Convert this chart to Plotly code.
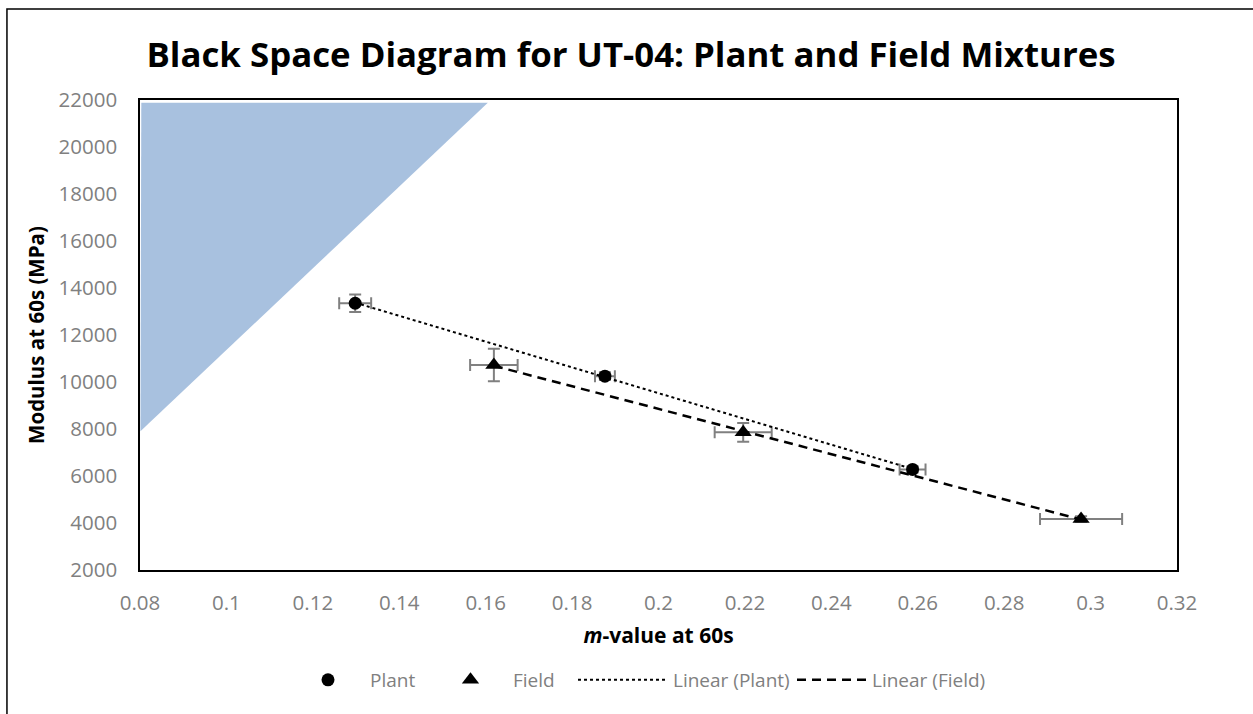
import numpy as np
import plotly.graph_objects as go

# ---- data ----
plant_m = [0.1298, 0.1876, 0.2588]
plant_s = [13350, 10250, 6280]
plant_m_err = [0.0037, 0.0023, 0.0030]
plant_s_err = [370, 170, 130]

field_m = [0.1619, 0.2196, 0.2978]
field_s = [10720, 7860, 4170]
field_m_err = [0.0055, 0.0066, 0.0095]
field_s_err = [690, 400, 120]

# shaded "black space" region
region_m = [0.0803, 0.1605, 0.0801, 0.0803]
region_s = [21880, 21880, 7900, 21880]

x_ticks = [0.08, 0.10, 0.12, 0.14, 0.16, 0.18, 0.20, 0.22, 0.24, 0.26, 0.28, 0.30, 0.32]
x_tick_text = ["0.08", "0.1", "0.12", "0.14", "0.16", "0.18", "0.2", "0.22", "0.24", "0.26", "0.28", "0.3", "0.32"]
y_ticks = [2000, 4000, 6000, 8000, 10000, 12000, 14000, 16000, 18000, 20000, 22000]
y_tick_text = [str(v) for v in y_ticks]

FONT = "Open Sans"
GRAY = "#808080"

# plot-area geometry (pixels) used to place legends
L, R = 140, 1177


def pxx(p):
    return (p - L) / (R - L)


def linear_fit(xs, ys):
    a, b = np.polyfit(xs, ys, 1)
    xx = np.array([min(xs), max(xs)])
    return xx, a * xx + b


fig = go.Figure()

fig.add_trace(go.Scatter(
    x=region_m, y=region_s, mode="lines", fill="toself",
    fillcolor="#A8C1DF", line=dict(width=0, color="#A8C1DF"),
    showlegend=False, hoverinfo="skip"))

px, py = linear_fit(plant_m, plant_s)
fx, fy = linear_fit(field_m, field_s)

fig.add_trace(go.Scatter(
    x=plant_m, y=plant_s, mode="markers", name="Plant", legend="legend",
    marker=dict(symbol="circle", size=13, color="black"),
    error_x=dict(type="data", array=plant_m_err, color=GRAY, thickness=2, width=6),
    error_y=dict(type="data", array=plant_s_err, color=GRAY, thickness=2, width=6)))

fig.add_trace(go.Scatter(
    x=field_m, y=field_s, mode="markers", name="Field", legend="legend2",
    marker=dict(symbol="triangle-up", size=15, color="black"),
    error_x=dict(type="data", array=field_m_err, color=GRAY, thickness=2, width=6),
    error_y=dict(type="data", array=field_s_err, color=GRAY, thickness=2, width=6)))

fig.add_trace(go.Scatter(
    x=px, y=py, mode="lines", name="Linear (Plant)", legend="legend3",
    line=dict(color="black", width=2, dash="dot")))

fig.add_trace(go.Scatter(
    x=fx, y=fy, mode="lines", name="Linear (Field)", legend="legend4",
    line=dict(color="black", width=2.5, dash="9px,6px")))

# outer chart border
fig.add_shape(type="rect", xref="paper", yref="paper",
              x0=-0.1283, x1=1.5, y0=-1.0, y1=1.1936,
              line=dict(color="black", width=1.5), fillcolor="rgba(0,0,0,0)",
              layer="below")


def leg(x_px, iw):
    return dict(orientation="h", x=pxx(x_px), xanchor="left", y=-0.234, yanchor="middle",
                font=dict(family=FONT, size=19, color=GRAY), itemwidth=iw,
                bgcolor="rgba(0,0,0,0)", borderwidth=0)


fig.update_layout(
    width=1253, height=714,
    margin=dict(l=140, r=76, t=100, b=144),
    paper_bgcolor="white", plot_bgcolor="white",
    font=dict(family=FONT, color=GRAY),
    title=dict(text="<b>Black Space Diagram for UT-04: Plant and Field Mixtures</b>",
               x=0.5036, xref="container", xanchor="center",
               y=0.923, yref="container", yanchor="middle",
               font=dict(family=FONT, size=34.8, color="black")),
    xaxis=dict(range=[0.08, 0.32], tickvals=x_ticks, ticktext=x_tick_text,
               showgrid=False, zeroline=False, showline=True, mirror=True,
               linecolor="black", linewidth=1.5, ticks="", ticklabelstandoff=14,
               tickfont=dict(family=FONT, size=20.5, color=GRAY),
               title=dict(text="<b><i>m</i>-value at 60s</b>",
                          font=dict(family=FONT, size=21, color="black"), standoff=13)),
    yaxis=dict(range=[2000, 22000], tickvals=y_ticks, ticktext=y_tick_text,
               showgrid=False, zeroline=False, showline=True, mirror=True,
               linecolor="black", linewidth=1.5, ticks="", ticklabelstandoff=17,
               tickfont=dict(family=FONT, size=20.5, color=GRAY),
               title=dict(text="<b>Modulus at 60s (MPa)</b>",
                          font=dict(family=FONT, size=20.5, color="black"), standoff=8)),
    legend=leg(286, 74),
    legend2=leg(428, 75),
    legend3=leg(573, 90),
    legend4=leg(792, 70),
)

fig.write_html("out.html", post_script="document.body.style.margin='0';",
               config={"displayModeBar": False})
